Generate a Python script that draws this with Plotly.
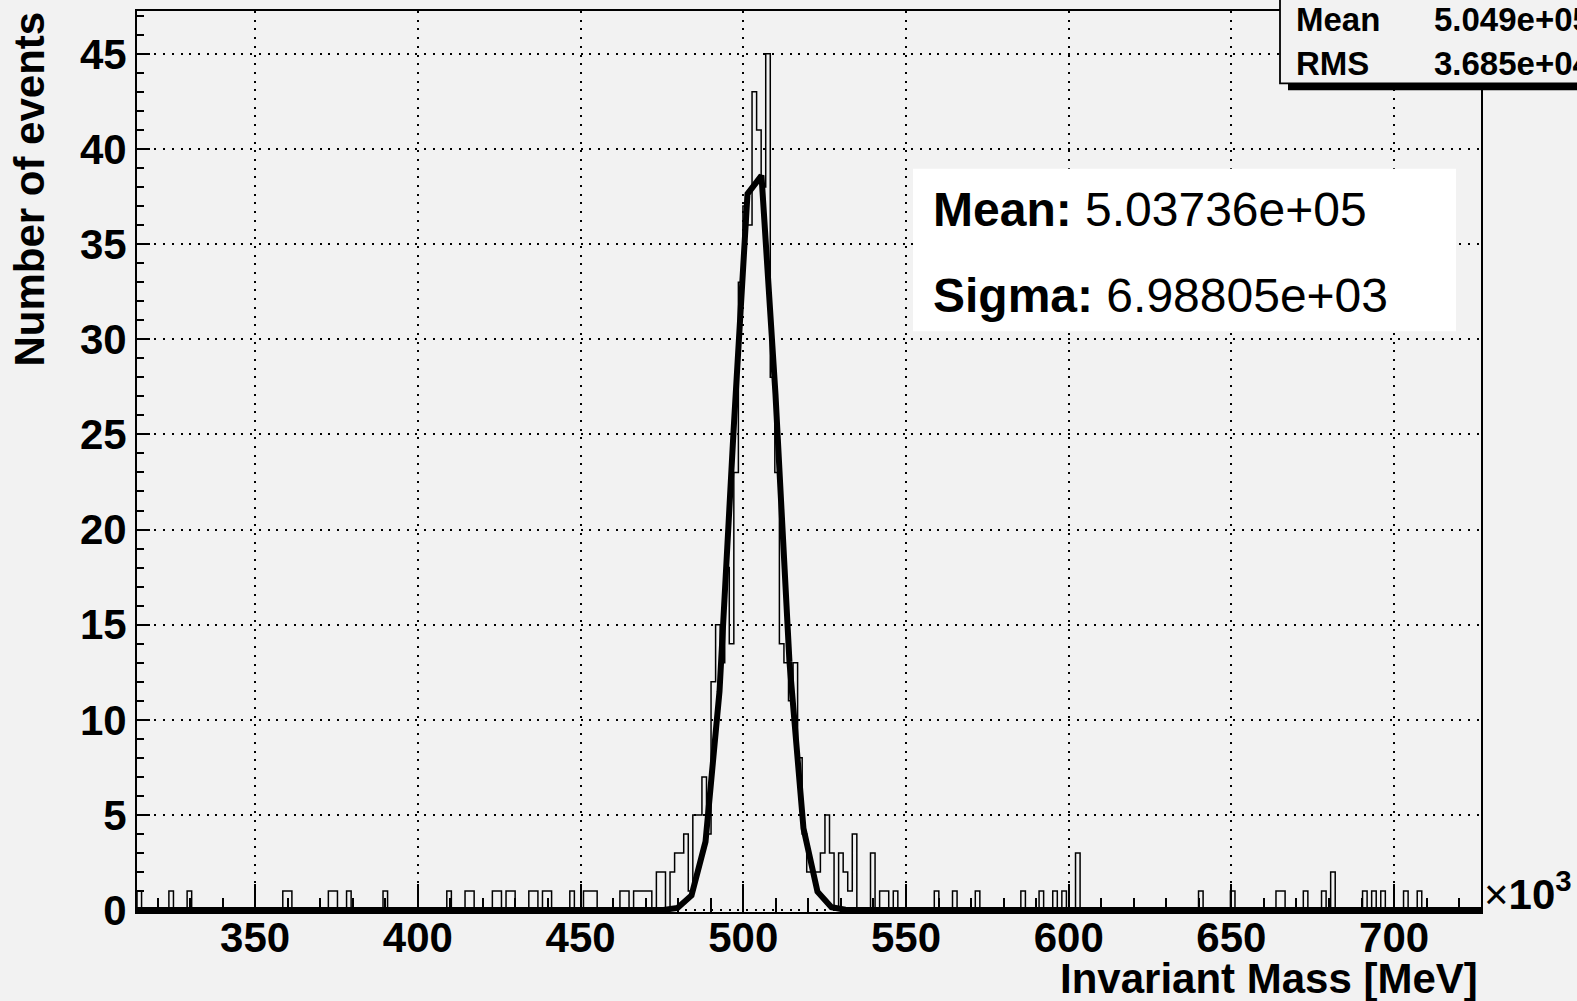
import numpy as np
import plotly.graph_objects as go

# ---------------- data (x in units of 10^3 MeV) ----------------
X_MIN = 313.7
BIN_WIDTH = 1.4
N_BINS = 295

# non-empty bins: index of bin and number of events
bin_index = [0, 7, 11, 32, 33, 42, 43, 46, 54, 68, 72, 73, 78, 79, 81, 82, 86, 87,
             89, 90, 95, 98, 99, 100, 106, 107, 109, 110,
             111, 112, 114, 115, 117, 118, 119, 120, 121, 122, 123, 124, 125, 126,
             127, 128, 129, 130, 131, 132, 133, 134, 135, 136, 137, 138, 139, 140,
             141, 142, 143, 144, 145, 146, 147, 148, 149, 150, 151, 152, 154, 155,
             156, 157, 161, 163, 164, 166,
             175, 179, 184, 194, 198, 201, 203, 206, 233, 240, 250, 251, 256, 260,
             262, 269, 271, 273, 278, 281]
bin_count = [1, 1, 1, 1, 1, 1, 1, 1, 1, 1, 1, 1, 1, 1, 1, 1, 1, 1,
             1, 1, 1, 1, 1, 1, 1, 1, 1, 1,
             1, 1, 2, 2, 2, 3, 3, 4, 1, 5, 5, 7, 4, 12,
             15, 13, 18, 14, 23, 33, 37, 36, 43, 41, 38, 45, 28, 23,
             14, 13, 11, 13, 8, 4, 2, 2, 2, 3, 5, 3, 3, 2,
             1, 4, 3, 1, 1, 1,
             1, 1, 1, 1, 1, 1, 1, 3, 1, 1, 1, 1, 1, 1,
             2, 1, 1, 1, 1, 1]

# gaussian fit shown in the chart
fit_mean = 503.736     # 5.03736e+05 MeV
fit_sigma = 6.98805    # 6.98805e+03 MeV
fit_amplitude = 40.0
fit_step = 4.3
fit_anchor = 501.3

x_ticks = [350, 400, 450, 500, 550, 600, 650, 700]
y_ticks = [0, 5, 10, 15, 20, 25, 30, 35, 40, 45]

stats_labels = ["Mean", "RMS"]
stats_values = ["5.049e+05", "3.685e+04"]
fit_labels = ["Mean:", "Sigma:"]
fit_values = ["5.03736e+05", "6.98805e+03"]

# ---------------- build histogram outline ----------------
X_MAX = X_MIN + BIN_WIDTH * N_BINS
counts = np.zeros(N_BINS)
for i, c in zip(bin_index, bin_count):
    counts[i] = c
edges = X_MIN + BIN_WIDTH * np.arange(N_BINS + 1)
hx, hy = [edges[0]], [0.0]
for k in range(N_BINS):
    hx += [edges[k], edges[k + 1]]
    hy += [counts[k], counts[k]]
hx.append(edges[-1]); hy.append(0.0)

# fit curve sampled like a ROOT TF1 polyline
n_lo = int(np.ceil((X_MIN - fit_anchor) / fit_step))
n_hi = int(np.floor((X_MAX - fit_anchor) / fit_step))
fx = [X_MIN] + [fit_anchor + fit_step * n for n in range(n_lo, n_hi + 1)] + [X_MAX]
fx = np.array(fx)
fy = fit_amplitude * np.exp(-0.5 * ((fx - fit_mean) / fit_sigma) ** 2)

# ---------------- figure ----------------
BG = "#f2f2f2"
FONT = "Liberation Sans"
L, R, T, B = 137, 96, 9, 89
W, H = 1577, 1001
PW, PH = W - L - R, H - T - B


def px(x):
    return (x - L) / PW


def py(y):
    return 1 - (y - T) / PH


fig = go.Figure()
fig.add_trace(go.Scatter(x=hx, y=hy, mode="lines",
                         line=dict(color="black", width=1.5), hoverinfo="skip"))
fig.add_trace(go.Scatter(x=fx, y=fy, mode="lines",
                         line=dict(color="black", width=6), hoverinfo="skip"))

tickfont = dict(family=FONT, size=42, color="black", weight="bold")
fig.update_layout(
    width=W, height=H, autosize=False,
    margin=dict(l=L, r=R, t=T, b=B, pad=0),
    paper_bgcolor=BG, plot_bgcolor=BG,
    showlegend=False,
    xaxis=dict(range=[X_MIN, X_MAX], showline=True, linecolor="black", linewidth=2,
               mirror=True, ticks="inside", tickmode="array", tickvals=x_ticks,
               ticktext=[str(v) for v in x_ticks], ticklen=28, tickwidth=1.5,
               tickcolor="black", tickfont=tickfont, ticklabelstandoff=-12,
               showgrid=True, gridcolor="black",
               gridwidth=2, griddash="2px,6.7px", zeroline=False,
               minor=dict(tickmode="linear", tick0=0, dtick=10, ticks="inside",
                          ticklen=14, tickwidth=1.5, tickcolor="black", showgrid=False)),
    yaxis=dict(range=[-0.1, 47.25], showline=True, linecolor="black", linewidth=2,
               mirror=True, ticks="inside", tickmode="array", tickvals=y_ticks,
               ticktext=[str(v) for v in y_ticks], ticklen=13, tickwidth=1.5,
               tickcolor="black", tickfont=tickfont, showgrid=True, gridcolor="black",
               gridwidth=2, griddash="2px,6.7px", zeroline=False,
               minor=dict(tickmode="linear", tick0=0, dtick=1, ticks="inside",
                          ticklen=6.5, tickwidth=1.5, tickcolor="black", showgrid=False)),
)

shapes = [
    # fit results box
    dict(type="rect", xref="paper", yref="paper", x0=px(913), x1=px(1456),
         y0=py(330), y1=py(167), fillcolor="white", line=dict(width=0), layer="above"),
    # stats box shadow
    dict(type="rect", xref="paper", yref="paper", x0=px(1288), x1=px(1590),
         y0=py(88.5), y1=py(80), fillcolor="black", line=dict(width=0), layer="above"),
    # stats box
    dict(type="rect", xref="paper", yref="paper", x0=px(1280), x1=px(1600),
         y0=py(81.5), y1=py(-5), fillcolor=BG, line=dict(color="black", width=1.8),
         layer="above"),
]
fig.update_layout(shapes=shapes)

ann = []
# axis titles
ann.append(dict(text="<b>Invariant Mass [MeV]</b>", xref="paper", yref="paper",
                x=px(1480), y=py(979), xanchor="right", yanchor="middle",
                showarrow=False, font=dict(family=FONT, size=42, color="black")))
ann.append(dict(text="<b>Number of events</b>", xref="paper", yref="paper",
                x=px(30), y=py(188), xanchor="center", yanchor="middle", textangle=-90,
                showarrow=False, font=dict(family=FONT, size=42, color="black")))
ann.append(dict(text="\u00d7<b>10<sup>3</sup></b>", xref="paper", yref="paper",
                x=px(1482), y=py(891), xanchor="left", yanchor="middle",
                showarrow=False, font=dict(family=FONT, size=42, color="black")))
# fit results text
for lab, val, yc in zip(fit_labels, fit_values, [208, 294]):
    ann.append(dict(text=f"<b>{lab}</b> {val}", xref="paper", yref="paper",
                    x=px(931), y=py(yc), xanchor="left", yanchor="middle",
                    showarrow=False, font=dict(family=FONT, size=48, color="black")))
# stats box text
for lab, val, yc in zip(stats_labels, stats_values, [18, 62]):
    ann.append(dict(text=f"<b>{lab}</b>", xref="paper", yref="paper",
                    x=px(1294), y=py(yc), xanchor="left", yanchor="middle",
                    showarrow=False, font=dict(family=FONT, size=33, color="black")))
    ann.append(dict(text=f"<b>{val}</b>", xref="paper", yref="paper",
                    x=px(1432), y=py(yc), xanchor="left", yanchor="middle",
                    showarrow=False, font=dict(family=FONT, size=33, color="black")))
fig.update_layout(annotations=ann)

fig.write_html("out.html", config={"displayModeBar": False},
               post_script="document.body.style.margin='0';"
                           "document.body.style.overflow='hidden';")
